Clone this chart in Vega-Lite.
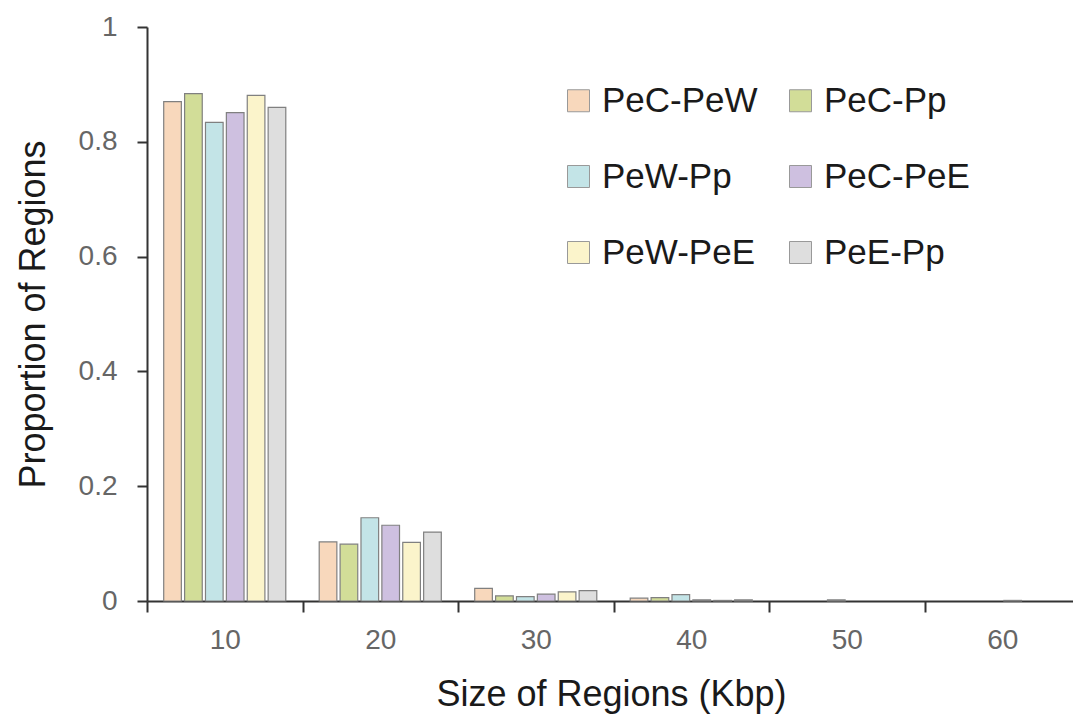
{
  "$schema": "https://vega.github.io/schema/vega-lite/v6.json",
  "autosize": "none",
  "width": 926,
  "height": 574,
  "padding": {"left": 147, "top": 27, "right": 0, "bottom": 123},
  "background": "white",
  "data": {
    "values": [
      {"size": "10", "pair": "PeC-PeW", "value": 0.870},
      {"size": "10", "pair": "PeC-Pp", "value": 0.884},
      {"size": "10", "pair": "PeW-Pp", "value": 0.834},
      {"size": "10", "pair": "PeC-PeE", "value": 0.851},
      {"size": "10", "pair": "PeW-PeE", "value": 0.881},
      {"size": "10", "pair": "PeE-Pp", "value": 0.860},
      {"size": "20", "pair": "PeC-PeW", "value": 0.103},
      {"size": "20", "pair": "PeC-Pp", "value": 0.099},
      {"size": "20", "pair": "PeW-Pp", "value": 0.145},
      {"size": "20", "pair": "PeC-PeE", "value": 0.132},
      {"size": "20", "pair": "PeW-PeE", "value": 0.102},
      {"size": "20", "pair": "PeE-Pp", "value": 0.120},
      {"size": "30", "pair": "PeC-PeW", "value": 0.022},
      {"size": "30", "pair": "PeC-Pp", "value": 0.009},
      {"size": "30", "pair": "PeW-Pp", "value": 0.0075},
      {"size": "30", "pair": "PeC-PeE", "value": 0.012},
      {"size": "30", "pair": "PeW-PeE", "value": 0.016},
      {"size": "30", "pair": "PeE-Pp", "value": 0.018},
      {"size": "40", "pair": "PeC-PeW", "value": 0.005},
      {"size": "40", "pair": "PeC-Pp", "value": 0.006},
      {"size": "40", "pair": "PeW-Pp", "value": 0.011},
      {"size": "40", "pair": "PeC-PeE", "value": 0.002},
      {"size": "40", "pair": "PeW-PeE", "value": 0.001},
      {"size": "40", "pair": "PeE-Pp", "value": 0.002},
      {"size": "50", "pair": "PeW-Pp", "value": 0.002},
      {"size": "60", "pair": "PeC-PeE", "value": 0.001}
    ]
  },
  "mark": {"type": "bar", "stroke": "#808080", "strokeWidth": 1.2},
  "encoding": {
    "x": {
      "field": "size",
      "type": "nominal",
      "sort": ["10", "20", "30", "40", "50", "60"],
      "scale": {"domain": ["10", "20", "30", "40", "50", "60"], "range": [0, 933], "paddingInner": 0, "paddingOuter": 0},
      "axis": {
        "title": "Size of Regions (Kbp)",
        "labelAngle": 0,
        "tickBand": "extent",
        "tickSize": 11,
        "tickWidth": 2,
        "tickColor": "#333",
        "domainColor": "#333",
        "domainWidth": 2,
        "labelFont": "Liberation Sans",
        "labelFontSize": 28,
        "labelColor": "#666",
        "labelPadding": 14,
        "titleFont": "Liberation Sans",
        "titleFontSize": 36,
        "titleFontWeight": "normal",
        "titleColor": "#1a1a1a",
        "titlePadding": 23,
        "titleX": 464
      }
    },
    "xOffset": {
      "field": "pair",
      "type": "nominal",
      "sort": ["PeC-PeW", "PeC-Pp", "PeW-Pp", "PeC-PeE", "PeW-PeE", "PeE-Pp"],
      "scale": {"paddingInner": 0.155, "paddingOuter": 0.8}
    },
    "y": {
      "field": "value",
      "type": "quantitative",
      "scale": {"domain": [0, 1], "nice": false},
      "axis": {
        "title": "Proportion of Regions",
        "values": [0, 0.2, 0.4, 0.6, 0.8, 1],
        "format": "~g",
        "grid": false,
        "tickSize": 10,
        "tickWidth": 2,
        "tickColor": "#333",
        "domainColor": "#333",
        "domainWidth": 2,
        "labelFont": "Liberation Sans",
        "labelFontSize": 28,
        "labelColor": "#666",
        "labelPadding": 20,
        "titleFont": "Liberation Sans",
        "titleFontSize": 36,
        "titleFontWeight": "normal",
        "titleColor": "#1a1a1a",
        "titlePadding": 26
      }
    },
    "color": {
      "field": "pair",
      "type": "nominal",
      "scale": {
        "domain": ["PeC-PeW", "PeC-Pp", "PeW-Pp", "PeC-PeE", "PeW-PeE", "PeE-Pp"],
        "range": ["#F8D8BC", "#D2DD98", "#C3E4E7", "#CEC0E0", "#FBF4CB", "#DEDEDE"]
      },
      "legend": {
        "title": null,
        "orient": "none",
        "legendX": 414,
        "legendY": 56,
        "direction": "horizontal",
        "columns": 2,
        "columnPadding": 25,
        "rowPadding": 40,
        "symbolType": "square",
        "symbolSize": 484,
        "symbolStrokeColor": "#999",
        "symbolStrokeWidth": 1,
        "labelFont": "Liberation Sans",
        "labelFontSize": 35,
        "labelColor": "#1a1a1a",
        "labelOffset": 6,
        "labelLimit": 400
      }
    }
  },
  "config": {
    "view": {"stroke": null}
  }
}
